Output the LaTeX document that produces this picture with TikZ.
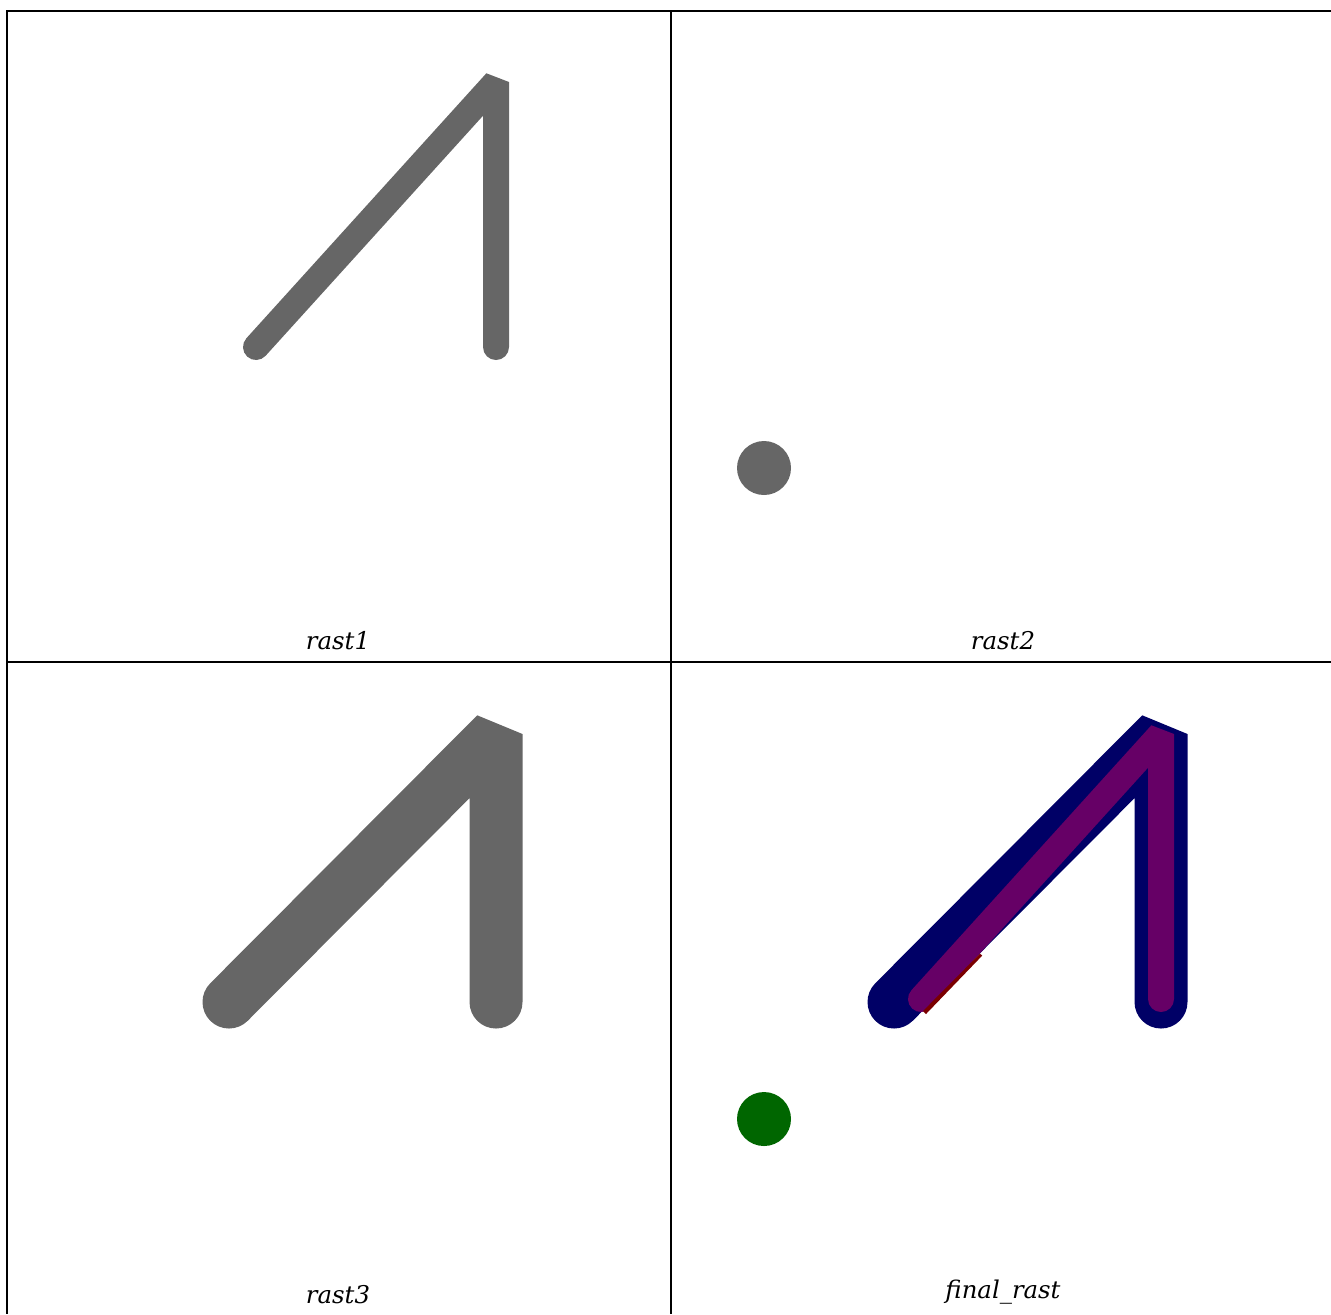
\documentclass[tikz,border=0pt]{standalone}
\usepackage{fontspec}
\setmainfont{DejaVu Serif}
\usepackage{xcolor}
\usepackage{tikz}
\definecolor{rastgray}{HTML}{666666}
\definecolor{rastnavy}{HTML}{000066}
\definecolor{rastpurple}{HTML}{660066}
\definecolor{rastred}{HTML}{7A0000}
\definecolor{rastgreen}{HTML}{006600}
\newcommand{\rastthin}[1]{%
  \draw[#1,line width=13pt,line cap=round,line join=bevel] (256,347)--(496,82)--(496,347);
}
\newcommand{\rastwide}[1]{%
  \draw[#1,line width=26.5pt,line cap=round,line join=bevel] (229,1002)--(496,734)--(496,1002);
}

\begin{document}
\begin{tikzpicture}[x=0.5pt,y=-0.5pt,font=\itshape\fontsize{12.2}{14}\selectfont]
  \useasboundingbox (0,0) rectangle (1331,1314);
  \draw[line width=1pt] (6,11)--(1331,11); \draw[line width=1pt] (6,662)--(1331,662);
  \draw[line width=1pt] (7,10)--(7,1314); \draw[line width=1pt] (671,10)--(671,1314);
  \begin{scope}
    \rastthin{rastgray}
    \node[anchor=south] (lblone) at (338,657) {rast1};
  \end{scope}
  \begin{scope}[shift={(665,0)}]
    \fill[rastgray] (99,468) circle[radius=27];
    \node[anchor=south] (lbltwo) at (338,657) {rast2};
  \end{scope}
  \begin{scope}
    \rastwide{rastgray}
    \node[anchor=south] (lblthree) at (338,1311) {rast3};
  \end{scope}
  \begin{scope}[shift={(665,0)}]
    \rastwide{rastnavy}
  \end{scope}
  \begin{scope}[shift={(665,652)}]
    \rastthin{rastpurple}
    \fill[rastred] (258,359)--(315,301.6)--(317.2,303.6)--(261,362)--cycle;
    \fill[rastgreen] (99,467) circle[radius=27];
  \end{scope}
  \node[anchor=south] (lblfinal) at (1003,1311) {final\_rast};
\end{tikzpicture}
\end{document}
